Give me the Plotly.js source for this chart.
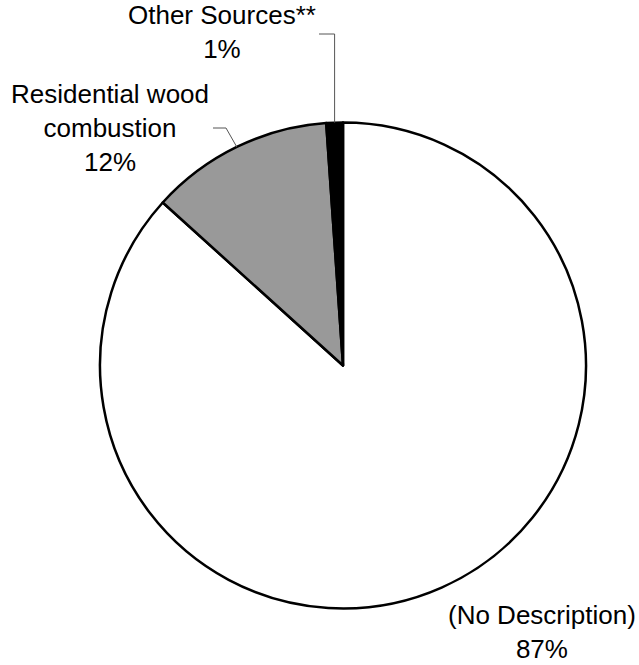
<!DOCTYPE html>
<html><head><meta charset="utf-8">
<script src="https://cdn.plot.ly/plotly-3.0.1.min.js"></script>
<style>html,body{margin:0;padding:0;background:#fff}</style>
</head><body><div id="chart" style="width:639px;height:665px"></div>
<script>
// Data
const labels = ["(No Description)", "Residential wood<br>combustion", "Other Sources**"];
const values = [86.7, 12.2, 1.1];
const colors = ["#ffffff", "#999999", "#000000"];

// Layout geometry (pixels)
const W = 639, H = 665;
const cx = 343, cy = 365.5, R = 243;
const px = x => x / W;
const py = y => 1 - y / H;

const total = values.reduce((a, b) => a + b, 0);
const pct = values.map(v => Math.round(v / total * 100) + "%");

// label block positions (pixel centres) and leader elbows
const labelPos = [
  {x: 542, y: 632, leader: null},
  {x: 110, y: 128, leader: [[226, 128], [213, 128]]},
  {x: 222, y: 32, leader: [[null, 34], [319, 34]]}
];

// slice mid-angle edge points (clockwise from 12 o'clock)
let cum = 0;
const edge = values.map(v => {
  const mid = (cum + v / 2) / total; cum += v;
  const t = 2 * Math.PI * mid;
  return [cx + R * Math.sin(t), cy - R * Math.cos(t)];
});

const annotations = labels.map((l, i) => ({
  text: l + "<br>" + pct[i],
  x: px(labelPos[i].x), y: py(labelPos[i].y),
  xref: "paper", yref: "paper", xanchor: "center", yanchor: "middle",
  showarrow: false, align: "center",
  font: {family: "Liberation Sans, Arial, sans-serif", size: 26, color: "#000"}
}));

const shapes = [];
labelPos.forEach((p, i) => {
  if (!p.leader) return;
  const pts = [edge[i]];
  p.leader.forEach(q => pts.push([q[0] === null ? edge[i][0] : q[0], q[1]]));
  const path = pts.map((q, k) => (k ? "L" : "M") + px(q[0]) + "," + py(q[1])).join(" ");
  shapes.push({type: "path", xref: "paper", yref: "paper", path: path,
    line: {color: "#555555", width: 1}});
});

const trace = {
  type: "pie",
  labels: labels, values: values,
  sort: false, direction: "clockwise", rotation: 0,
  marker: {colors: colors, line: {color: "#000000", width: 2.5}},
  textinfo: "none", hoverinfo: "none",
  domain: {x: [px(cx - R), px(cx + R)], y: [py(cy + R), py(cy - R)]}
};

const layout = {
  width: W, height: H,
  margin: {l: 0, r: 0, t: 0, b: 0},
  paper_bgcolor: "#ffffff", plot_bgcolor: "#ffffff",
  showlegend: false,
  annotations: annotations, shapes: shapes
};

Plotly.newPlot("chart", [trace], layout, {displayModeBar: false, staticPlot: true});
</script></body></html>
